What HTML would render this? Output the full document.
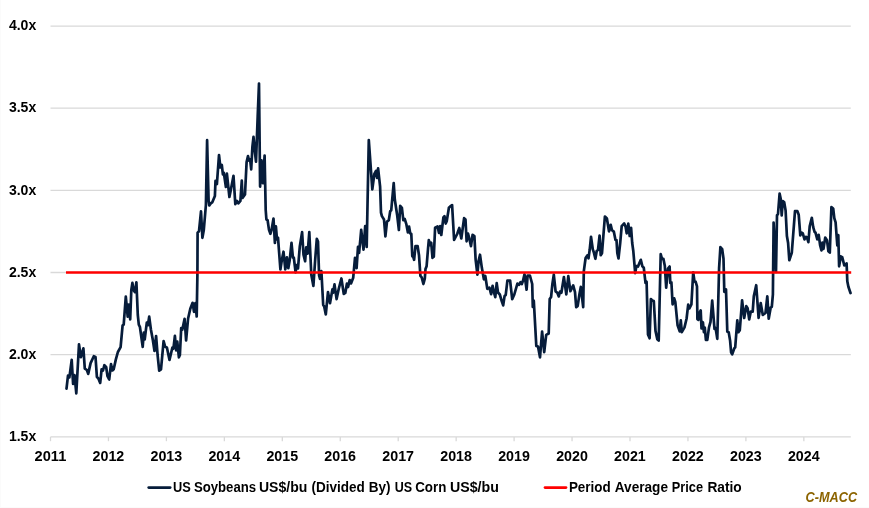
<!DOCTYPE html>
<html><head><meta charset="utf-8"><title>Chart</title>
<style>
html,body{margin:0;padding:0;background:#fff;}
body{width:869px;height:508px;overflow:hidden;font-family:"Liberation Sans",sans-serif;}
svg{display:block;will-change:transform;}
text{font-family:"Liberation Sans",sans-serif;font-weight:bold;}
</style></head><body>
<svg width="869" height="508" viewBox="0 0 869 508">
<rect x="0" y="0" width="869" height="508" fill="#ffffff"/>
<rect x="0" y="0" width="1" height="508" fill="#fbfbfb"/>
<rect x="0" y="507" width="869" height="1" fill="#fbfbfb"/>

<line x1="50.5" y1="26.1" x2="850.8" y2="26.1" stroke="#d9d9d9" stroke-width="1.3"/>
<line x1="50.5" y1="108.1" x2="850.8" y2="108.1" stroke="#d9d9d9" stroke-width="1.3"/>
<line x1="50.5" y1="190.3" x2="850.8" y2="190.3" stroke="#d9d9d9" stroke-width="1.3"/>
<line x1="50.5" y1="272.5" x2="850.8" y2="272.5" stroke="#d9d9d9" stroke-width="1.3"/>
<line x1="50.5" y1="354.6" x2="850.8" y2="354.6" stroke="#d9d9d9" stroke-width="1.3"/>
<line x1="50.5" y1="436.9" x2="850.8" y2="436.9" stroke="#d9d9d9" stroke-width="1.3"/>
<line x1="50.50" y1="436.9" x2="50.50" y2="441.2" stroke="#d9d9d9" stroke-width="1.3"/>
<line x1="108.45" y1="436.9" x2="108.45" y2="441.2" stroke="#d9d9d9" stroke-width="1.3"/>
<line x1="166.40" y1="436.9" x2="166.40" y2="441.2" stroke="#d9d9d9" stroke-width="1.3"/>
<line x1="224.35" y1="436.9" x2="224.35" y2="441.2" stroke="#d9d9d9" stroke-width="1.3"/>
<line x1="282.30" y1="436.9" x2="282.30" y2="441.2" stroke="#d9d9d9" stroke-width="1.3"/>
<line x1="340.25" y1="436.9" x2="340.25" y2="441.2" stroke="#d9d9d9" stroke-width="1.3"/>
<line x1="398.20" y1="436.9" x2="398.20" y2="441.2" stroke="#d9d9d9" stroke-width="1.3"/>
<line x1="456.15" y1="436.9" x2="456.15" y2="441.2" stroke="#d9d9d9" stroke-width="1.3"/>
<line x1="514.10" y1="436.9" x2="514.10" y2="441.2" stroke="#d9d9d9" stroke-width="1.3"/>
<line x1="572.05" y1="436.9" x2="572.05" y2="441.2" stroke="#d9d9d9" stroke-width="1.3"/>
<line x1="630.00" y1="436.9" x2="630.00" y2="441.2" stroke="#d9d9d9" stroke-width="1.3"/>
<line x1="687.95" y1="436.9" x2="687.95" y2="441.2" stroke="#d9d9d9" stroke-width="1.3"/>
<line x1="745.90" y1="436.9" x2="745.90" y2="441.2" stroke="#d9d9d9" stroke-width="1.3"/>
<line x1="803.85" y1="436.9" x2="803.85" y2="441.2" stroke="#d9d9d9" stroke-width="1.3"/>
<text x="8.9" y="30.2" font-size="14" textLength="27.3" lengthAdjust="spacingAndGlyphs" fill="#000">4.0x</text>
<text x="8.9" y="112.4" font-size="14" textLength="27.3" lengthAdjust="spacingAndGlyphs" fill="#000">3.5x</text>
<text x="8.9" y="194.5" font-size="14" textLength="27.3" lengthAdjust="spacingAndGlyphs" fill="#000">3.0x</text>
<text x="8.9" y="276.7" font-size="14" textLength="27.3" lengthAdjust="spacingAndGlyphs" fill="#000">2.5x</text>
<text x="8.9" y="358.8" font-size="14" textLength="27.3" lengthAdjust="spacingAndGlyphs" fill="#000">2.0x</text>
<text x="8.9" y="441.0" font-size="14" textLength="27.3" lengthAdjust="spacingAndGlyphs" fill="#000">1.5x</text>
<text x="34.60" y="460.8" font-size="14" textLength="31.7" lengthAdjust="spacingAndGlyphs" fill="#000">2011</text>
<text x="92.55" y="460.8" font-size="14" textLength="31.7" lengthAdjust="spacingAndGlyphs" fill="#000">2012</text>
<text x="150.50" y="460.8" font-size="14" textLength="31.7" lengthAdjust="spacingAndGlyphs" fill="#000">2013</text>
<text x="208.45" y="460.8" font-size="14" textLength="31.7" lengthAdjust="spacingAndGlyphs" fill="#000">2014</text>
<text x="266.40" y="460.8" font-size="14" textLength="31.7" lengthAdjust="spacingAndGlyphs" fill="#000">2015</text>
<text x="324.35" y="460.8" font-size="14" textLength="31.7" lengthAdjust="spacingAndGlyphs" fill="#000">2016</text>
<text x="382.30" y="460.8" font-size="14" textLength="31.7" lengthAdjust="spacingAndGlyphs" fill="#000">2017</text>
<text x="440.25" y="460.8" font-size="14" textLength="31.7" lengthAdjust="spacingAndGlyphs" fill="#000">2018</text>
<text x="498.20" y="460.8" font-size="14" textLength="31.7" lengthAdjust="spacingAndGlyphs" fill="#000">2019</text>
<text x="556.15" y="460.8" font-size="14" textLength="31.7" lengthAdjust="spacingAndGlyphs" fill="#000">2020</text>
<text x="614.10" y="460.8" font-size="14" textLength="31.7" lengthAdjust="spacingAndGlyphs" fill="#000">2021</text>
<text x="672.05" y="460.8" font-size="14" textLength="31.7" lengthAdjust="spacingAndGlyphs" fill="#000">2022</text>
<text x="730.00" y="460.8" font-size="14" textLength="31.7" lengthAdjust="spacingAndGlyphs" fill="#000">2023</text>
<text x="787.95" y="460.8" font-size="14" textLength="31.7" lengthAdjust="spacingAndGlyphs" fill="#000">2024</text>
<polyline fill="none" stroke="#061c3a" stroke-width="2.7" stroke-linejoin="round" stroke-linecap="round" points="66.5,388.6 68.0,375.6 69.4,377.4 71.7,359.9 73.1,384.0 74.5,375.2 76.3,393.3 79.0,344.4 80.9,357.2 83.4,348.3 84.8,368.6 86.9,370.0 88.2,373.9 90.6,363.1 93.8,356.2 95.5,356.9 96.9,376.9 98.6,378.9 100.2,382.9 101.6,369.4 103.0,370.5 104.4,365.2 106.2,367.2 107.5,376.2 109.2,379.5 111.0,364.1 112.4,370.5 113.7,369.3 115.8,359.6 117.9,352.0 120.6,347.2 122.6,325.4 123.7,324.7 125.8,296.6 127.7,316.6 128.8,304.5 130.2,319.3 131.3,290.2 132.4,282.9 133.6,290.2 135.0,292.2 136.4,282.3 137.8,315.0 138.8,324.7 139.9,326.8 142.7,346.8 143.8,332.5 144.7,339.5 146.8,322.7 147.9,325.2 149.2,316.6 150.9,329.5 152.8,339.8 154.5,351.0 156.1,336.0 157.6,355.0 159.2,370.7 161.0,369.4 163.6,341.2 165.1,346.7 166.9,347.4 169.5,360.0 172.4,347.5 173.4,348.7 174.9,335.9 176.2,350.4 177.3,341.6 178.9,357.3 179.9,355.0 181.2,328.1 182.3,329.7 184.6,318.9 186.1,340.3 188.1,318.5 190.3,308.8 192.6,302.8 194.0,311.9 195.4,303.0 196.7,316.5 197.4,275.0 197.6,232.6 199.0,231.2 201.0,211.3 202.4,237.8 203.8,229.9 205.9,205.0 207.1,140.2 208.6,200.8 209.3,205.5 210.7,203.5 212.4,202.1 214.9,195.9 215.5,180.8 216.9,184.1 219.0,155.0 220.4,167.5 221.8,165.0 222.9,174.4 223.8,172.6 225.9,187.0 226.9,173.7 229.4,197.0 230.7,190.4 233.5,175.8 235.3,204.1 236.9,200.9 238.3,203.4 240.4,200.8 241.8,180.7 242.5,197.9 245.0,194.5 246.6,162.1 248.0,156.1 249.1,160.6 250.1,159.4 251.2,169.3 252.4,146.9 253.5,136.8 254.9,152.0 256.0,161.7 257.7,116.4 259.0,83.6 260.1,186.6 261.5,160.3 262.9,183.2 264.6,155.5 265.7,210.0 266.4,219.5 267.6,220.2 269.0,229.9 270.4,233.8 271.7,229.2 273.5,218.5 274.9,243.0 275.9,226.3 277.0,239.4 278.0,237.6 280.4,269.5 281.8,260.2 283.5,251.7 285.3,269.4 286.9,257.3 288.3,268.2 289.7,260.2 291.5,242.9 292.9,257.5 293.8,257.5 295.6,272.4 296.6,265.2 298.0,268.4 299.8,246.4 302.1,232.1 303.5,254.7 305.1,261.3 306.2,247.4 307.6,253.7 309.3,232.1 311.3,274.7 313.4,285.9 315.2,259.5 316.8,238.9 318.0,241.6 319.1,275.4 320.0,278.8 321.4,271.2 323.2,305.0 324.2,306.4 325.8,314.4 328.0,292.0 330.0,303.2 332.4,289.4 333.1,292.8 334.5,284.4 336.6,299.1 338.7,289.0 341.4,278.5 343.8,294.0 345.3,293.0 346.9,283.7 348.1,287.0 349.7,280.0 351.1,283.4 353.2,277.8 355.0,257.8 356.6,268.1 358.0,246.8 359.1,253.0 361.2,229.9 363.5,249.6 365.2,226.2 366.7,246.9 367.6,200.0 368.8,140.0 372.3,189.4 374.3,174.2 376.0,170.8 377.1,178.0 378.1,168.4 380.1,186.6 381.0,212.6 381.9,216.1 384.0,219.5 385.4,236.4 387.0,221.6 388.8,220.2 390.2,211.2 391.2,210.5 393.7,183.2 394.8,199.5 397.1,214.7 398.9,230.0 400.2,205.8 401.9,207.8 403.3,220.1 404.7,218.9 406.4,224.4 407.9,232.4 409.1,226.6 410.2,233.3 411.3,234.0 412.3,256.3 413.0,255.9 414.1,259.8 415.5,246.0 417.6,246.0 419.0,255.2 420.4,275.9 421.7,277.3 423.4,284.0 424.8,278.7 425.5,269.0 426.6,266.2 428.0,249.0 428.8,240.2 430.3,245.1 431.2,242.7 432.5,257.8 433.8,256.8 435.1,227.8 437.6,226.5 439.0,233.0 440.2,226.0 441.3,235.0 443.4,217.4 444.5,216.2 445.7,223.6 446.8,220.9 448.9,207.8 450.3,206.4 452.1,205.1 454.1,240.0 457.2,234.0 459.3,228.0 461.3,238.5 464.1,218.2 465.5,219.5 466.6,241.3 468.0,233.5 469.2,238.2 471.0,246.1 472.6,234.8 474.4,236.1 475.6,259.3 477.4,274.6 478.6,260.7 480.0,254.7 481.8,267.6 483.9,279.3 485.3,276.0 487.3,288.9 489.4,287.7 491.1,294.2 492.6,285.8 493.8,291.8 495.3,297.1 496.7,283.2 498.0,292.5 499.8,294.5 501.8,301.4 503.2,305.4 504.6,295.9 505.7,295.2 507.4,280.7 510.1,280.5 512.2,299.2 514.3,294.5 517.4,283.6 519.1,284.8 520.5,282.2 521.8,284.1 523.0,280.7 524.5,274.3 526.6,289.7 527.6,275.7 529.9,275.5 532.2,284.0 532.8,307.0 533.8,300.7 536.3,345.9 538.0,346.6 540.0,357.3 542.1,331.6 544.2,352.1 546.2,334.9 548.7,333.5 549.7,299.0 551.1,297.0 552.4,283.9 553.8,274.6 555.6,291.4 557.3,292.8 558.8,296.4 560.0,291.6 561.4,292.7 563.9,277.0 566.3,294.4 568.3,276.2 570.4,291.2 573.2,285.4 575.0,292.1 576.2,307.2 577.7,305.9 579.4,294.5 580.8,286.9 583.2,307.1 583.8,271.4 585.6,258.0 587.3,255.4 588.5,258.3 589.7,249.8 591.0,236.8 592.8,249.4 593.8,252.3 595.4,258.8 596.7,251.0 598.0,250.0 599.6,235.5 600.7,255.2 602.0,253.2 604.9,216.5 606.9,218.5 609.0,231.3 610.7,224.9 612.0,230.2 613.8,231.6 615.5,240.0 616.5,240.0 617.3,253.0 618.5,258.5 620.2,243.0 621.7,226.1 624.2,223.4 625.6,226.8 626.7,233.4 628.3,223.7 629.7,236.0 631.1,227.8 632.2,243.0 633.3,251.0 635.2,273.1 636.4,266.0 638.0,266.6 640.8,259.8 642.4,266.4 643.8,267.8 645.5,282.9 646.6,281.7 648.0,334.4 649.6,338.3 650.9,299.1 652.3,300.4 653.8,301.0 655.5,330.9 657.3,339.2 658.7,340.5 660.7,254.2 662.0,258.8 663.4,258.8 664.8,265.7 666.2,287.7 668.0,268.5 669.6,266.5 670.3,283.0 671.4,282.3 672.6,304.3 674.2,298.4 675.3,301.9 677.6,325.4 679.7,331.4 680.8,320.4 681.8,332.1 684.5,327.4 686.6,318.5 688.2,304.7 689.4,308.4 691.4,304.5 693.2,272.3 694.5,281.6 695.6,281.6 697.0,286.4 697.4,319.2 698.4,319.9 699.5,313.0 700.7,310.4 701.5,328.5 702.9,322.2 703.9,332.1 704.8,327.6 705.9,339.9 707.3,339.9 709.0,327.4 710.5,321.9 712.2,300.6 714.5,328.8 715.6,328.1 717.3,338.8 719.1,267.8 720.4,247.2 722.2,249.1 723.5,258.8 724.3,291.8 726.0,289.3 727.3,331.6 728.7,332.3 730.1,340.6 731.1,352.3 732.2,354.3 734.3,348.2 735.2,347.5 737.3,320.4 738.4,332.2 739.8,330.2 742.1,300.3 744.2,318.0 746.3,306.1 747.6,308.2 749.2,319.4 750.8,311.6 752.7,311.6 753.8,296.4 756.2,285.2 758.6,317.9 760.7,303.1 762.8,315.0 765.5,313.0 767.3,296.4 768.7,318.7 770.7,307.5 771.8,306.8 772.9,294.4 773.6,222.6 776.0,272.0 777.0,215.4 778.0,214.0 779.6,193.5 780.7,198.8 781.7,215.5 782.8,201.0 784.2,202.3 785.6,210.5 786.9,236.1 788.1,243.0 789.3,260.2 791.8,252.7 795.0,211.2 797.3,211.0 798.7,214.7 800.3,235.3 801.7,232.6 802.8,233.3 804.5,239.4 805.9,236.8 807.0,237.5 808.4,242.1 809.7,226.4 811.8,217.8 813.2,227.1 814.6,231.9 815.5,232.6 817.3,239.3 818.7,234.9 820.1,245.1 821.5,250.4 822.4,242.6 823.5,248.9 825.2,237.6 827.0,240.2 828.4,251.3 829.8,252.6 831.4,207.2 833.2,208.5 834.3,218.1 835.6,222.3 837.3,245.4 838.3,235.1 839.1,266.3 840.8,256.4 842.2,257.1 844.3,265.4 845.6,264.7 846.6,263.4 847.3,281.2 848.4,286.8 850.5,293.0"/>
<line x1="66" y1="272.5" x2="851.2" y2="272.5" stroke="#ff0000" stroke-width="2.7"/>
<line x1="148.7" y1="487.6" x2="170.2" y2="487.6" stroke="#061c3a" stroke-width="2.7" stroke-linecap="round"/>
<text x="172.9" y="492.0" font-size="14" textLength="17.8" lengthAdjust="spacingAndGlyphs" fill="#000">US</text>
<text x="193.9" y="492.0" font-size="14" textLength="62.2" lengthAdjust="spacingAndGlyphs" fill="#000">Soybeans</text>
<text x="259.0" y="492.0" font-size="14" textLength="48.3" lengthAdjust="spacingAndGlyphs" fill="#000">US$/bu</text>
<text x="311.5" y="492.0" font-size="14" textLength="53.3" lengthAdjust="spacingAndGlyphs" fill="#000">(Divided</text>
<text x="368.8" y="492.0" font-size="14" textLength="21.8" lengthAdjust="spacingAndGlyphs" fill="#000">By)</text>
<text x="394.7" y="492.0" font-size="14" textLength="17.4" lengthAdjust="spacingAndGlyphs" fill="#000">US</text>
<text x="415.2" y="492.0" font-size="14" textLength="31.1" lengthAdjust="spacingAndGlyphs" fill="#000">Corn</text>
<text x="450.0" y="492.0" font-size="14" textLength="48.9" lengthAdjust="spacingAndGlyphs" fill="#000">US$/bu</text>
<text x="568.9" y="492.0" font-size="14" textLength="41.8" lengthAdjust="spacingAndGlyphs" fill="#000">Period</text>
<text x="614.8" y="492.0" font-size="14" textLength="53.2" lengthAdjust="spacingAndGlyphs" fill="#000">Average</text>
<text x="671.8" y="492.0" font-size="14" textLength="31.2" lengthAdjust="spacingAndGlyphs" fill="#000">Price</text>
<text x="707.4" y="492.0" font-size="14" textLength="34.3" lengthAdjust="spacingAndGlyphs" fill="#000">Ratio</text>
<line x1="545" y1="487.6" x2="566" y2="487.6" stroke="#ff0000" stroke-width="2.7" stroke-linecap="round"/>
<text x="805.6" y="502.1" font-size="14" font-style="italic" textLength="51.5" lengthAdjust="spacingAndGlyphs" fill="#8c6400">C-MACC</text>
</svg></body></html>
